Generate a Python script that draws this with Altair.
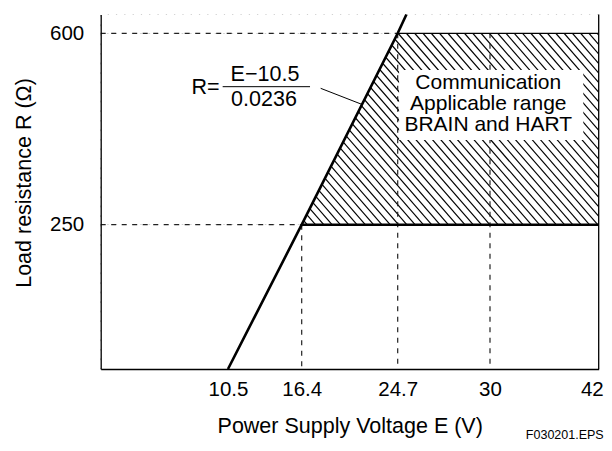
import altair as alt
import pandas as pd

# ---- values ----
x_ticks = [10.5, 16.4, 24.7, 30, 42]
y_ticks = [250, 600]
x_domain = [0, 10.5, 16.4, 24.7, 30, 42]
y_domain = [0, 250, 600, 634]

line_E = [10.5, 16.4, 24.7, 25.2]
line_R = [0, 250, 600, 634]

band_R = [250, 600]
band_E_left = [16.4, 24.7]
E_min, E_max = 0, 42
R_min, R_max = 0, 634

formula_labels = ["R=", "E\u221210.5", "0.0236"]
formula_E = [8.64, 13.46, 13.38]
formula_R = [500, 524, 478]

box_label = "Communication\nApplicable range\nBRAIN and HART"
box_E = 29.9
box_R_first_line = 509.4
box_extent_E = [24.78, 40.3]
box_extent_R = [405, 533]

# ---- layout (schematic, piecewise axis) ----
W, H = 498, 354.5
x_range = [0, 127.3, 201, 297, 389.3, 498]
y_range = [354.5, 210.2, 18.8, 0]
FONT = "Liberation Sans"

xs = alt.Scale(domain=x_domain, range=x_range, nice=False, zero=False)
ys = alt.Scale(domain=y_domain, range=y_range, nice=False, zero=False)

xaxis = alt.Axis(values=x_ticks, ticks=False, grid=False,
                 labelExpr="'' + datum.value",
                 domainColor="black", domainWidth=1.3, labelFont=FONT,
                 labelFontSize=20.5, labelColor="black", labelPadding=10,
                 labelFlush=True, labelFlushOffset=4.5,
                 labelOverlap=False, labelBound=False,
                 title="Power Supply Voltage E (V)", titleFont=FONT,
                 titleFontSize=21.5, titleFontWeight="normal", titleColor="black",
                 titleBaseline="alphabetic", titleY=63, zindex=1)
yaxis = alt.Axis(values=y_ticks, ticks=False, grid=False,
                 labelExpr="'' + datum.value",
                 domainColor="black", domainWidth=1.3, labelFont=FONT,
                 labelFontSize=20.5, labelColor="black", labelPadding=17,
                 title="Load resistance R (\u03a9)", titleFont=FONT,
                 titleFontSize=21.5, titleFontWeight="normal", titleColor="black",
                 titleBaseline="alphabetic", titleX=-70.7, titleY=168,
                 titleAlign="center", zindex=1)

# hatch texture (pixel space), masked afterwards to the band
hatch = alt.Chart(alt.sequence(0, 100, as_="i")).transform_calculate(
    hx=f"datum.i*8.3 - {H/1.15}", hx2="datum.i*8.3", hy="0", hy2=f"{H}"
).mark_rule(clip=True, strokeWidth=1.15, color="black").encode(
    x=alt.X("hx:Q", scale=None, axis=None), x2="hx2:Q",
    y=alt.Y("hy:Q", scale=None, axis=None), y2="hy2:Q")

masks_df = pd.DataFrame({
    "x": [E_min, E_min], "x2": [E_max, E_max],
    "y": [R_min, band_R[1]], "y2": [band_R[0], R_max]})
masks = alt.Chart(masks_df).mark_rect(color="white").encode(
    x=alt.X("x:Q", scale=xs, axis=xaxis), x2="x2:Q",
    y=alt.Y("y:Q", scale=ys, axis=yaxis), y2="y2:Q")

left_df = pd.DataFrame({"R": band_R, "E": band_E_left, "E0": [E_min, E_min]})
left_mask = alt.Chart(left_df).mark_area(orient="horizontal", color="white",
                                         opacity=1).encode(
    y=alt.Y("R:Q", scale=ys), x=alt.X("E:Q", scale=xs), x2="E0:Q")

dash_df = pd.DataFrame({
    "x": [E_min, E_min, 16.4, 24.7, 30],
    "x2": [24.7, 16.4, 16.4, 24.7, 30],
    "y": [600, 250, 250, 600, 600],
    "y2": [600, 250, R_min, R_min, R_min]})
dashed = alt.Chart(dash_df).mark_rule(strokeDash=[5, 5.5], color="#222",
                                      strokeWidth=1.2).encode(
    x=alt.X("x:Q", scale=xs), x2="x2:Q", y=alt.Y("y:Q", scale=ys), y2="y2:Q")

box_df = pd.DataFrame({"x": [box_extent_E[0]], "x2": [box_extent_E[1]],
                       "y": [box_extent_R[0]], "y2": [box_extent_R[1]]})
box = alt.Chart(box_df).mark_rect(color="white").encode(
    x=alt.X("x:Q", scale=xs), x2="x2:Q", y=alt.Y("y:Q", scale=ys), y2="y2:Q")

line_df = pd.DataFrame({"E": line_E, "R": line_R})
main_line = alt.Chart(line_df).mark_line(color="black", strokeWidth=2.6).encode(
    x=alt.X("E:Q", scale=xs), y=alt.Y("R:Q", scale=ys), order="E:Q")

solid_df = pd.DataFrame({
    "x": [16.4, 24.7, E_max, 18.04, 10.06],
    "x2": [E_max, E_max, E_max, 21.61, 17.12],
    "y": [250, 600, R_min, 499.4, 502.4],
    "y2": [250, 600, R_max, 470, 502.4],
    "w": [2.6, 1.3, 1.3, 1.0, 1.0]})
solids = alt.Chart(solid_df).mark_rule(color="black").encode(
    x=alt.X("x:Q", scale=xs), x2="x2:Q", y=alt.Y("y:Q", scale=ys), y2="y2:Q",
    strokeWidth=alt.StrokeWidth("w:Q", scale=None, legend=None))

text_df = pd.DataFrame({"t": formula_labels, "E": formula_E, "R": formula_R})
texts = alt.Chart(text_df).mark_text(font=FONT, fontSize=21.5, color="black",
                                     align="center", baseline="middle").encode(
    x=alt.X("E:Q", scale=xs), y=alt.Y("R:Q", scale=ys), text="t:N")

box_text_df = pd.DataFrame({"t": [box_label], "E": [box_E],
                            "R": [box_R_first_line]})
box_text = alt.Chart(box_text_df).mark_text(
    font=FONT, fontSize=21, color="black", align="center", baseline="middle",
    lineBreak="\n", lineHeight=21).encode(
    x=alt.X("E:Q", scale=xs), y=alt.Y("R:Q", scale=ys), text="t:N")

chart = alt.layer(hatch, masks, left_mask, dashed, box, main_line, solids,
                  texts, box_text).properties(
    width=W, height=H,
    autosize=alt.AutoSizeParams(type="none"),
    padding={"left": 92.7, "top": 6.5, "right": 5.3, "bottom": 73},
    title=alt.TitleParams("F030201.EPS", orient="bottom", anchor="end",
                          frame="group", fontSize=12.5, font=FONT,
                          fontWeight="normal", color="black", offset=2,
                          dx=5, dy=-10),
).configure_view(stroke=None)

chart.save("out.html", embed_options={"renderer": "svg", "actions": False})
